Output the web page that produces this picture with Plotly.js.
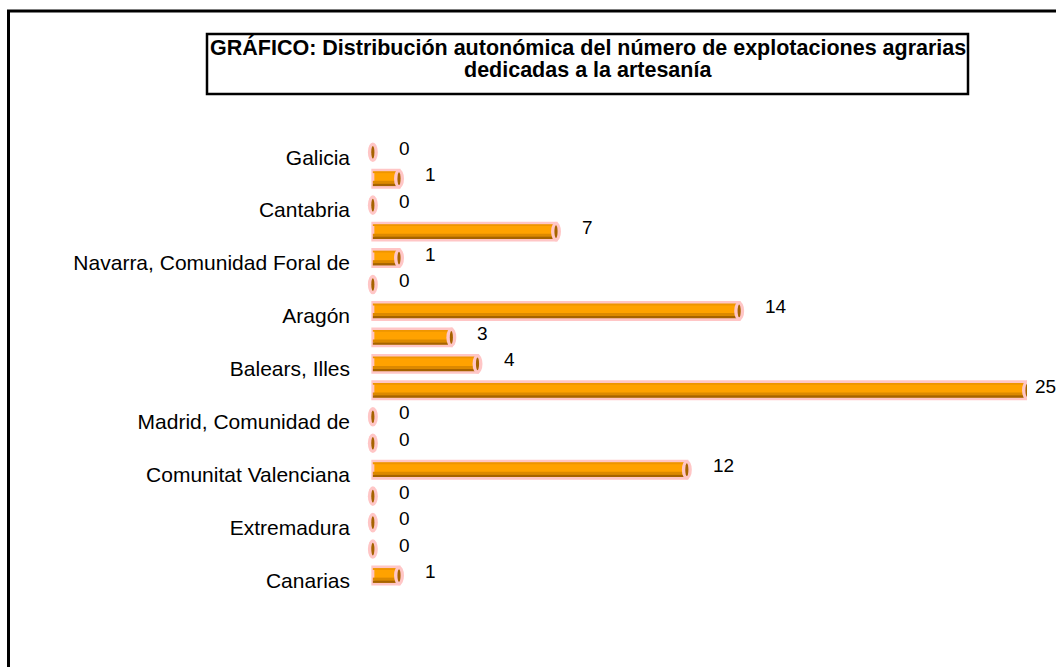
<!DOCTYPE html>
<html>
<head>
<meta charset="utf-8">
<script src="https://cdn.plot.ly/plotly-3.0.1.min.js"></script>
<style>html,body{margin:0;padding:0;background:#fff;}#chart{width:1056px;height:667px;}</style>
</head>
<body>
<div id="chart"></div>
<script>
// ---- data ----
const regions = [
  "Galicia", "Asturias, Principado de", "Cantabria", "País Vasco",
  "Navarra, Comunidad Foral de", "Rioja, La", "Aragón", "Cataluña",
  "Balears, Illes", "Castilla y León", "Madrid, Comunidad de",
  "Castilla - La Mancha", "Comunitat Valenciana", "Murcia, Región de",
  "Extremadura", "Andalucía", "Canarias"
];
const explotaciones = [0, 1, 0, 7, 1, 0, 14, 3, 4, 25, 0, 0, 12, 0, 0, 0, 1];
const shownLabels = ["Galicia", "Cantabria", "Navarra, Comunidad Foral de", "Aragón",
  "Balears, Illes", "Madrid, Comunidad de", "Comunitat Valenciana", "Extremadura", "Canarias"];
const titleLines = ["GRÁFICO: Distribución autonómica del número de explotaciones agrarias",
  "dedicadas a la artesanía"];

// ---- layout geometry ----
const W = 1056, H = 667;
const M = {l: 365, r: 29, t: 139, b: 75};
const XMIN = -0.3, XMAX = 25;
const pw = W - M.l - M.r, ph = H - M.t - M.b;
const px = x => (x - M.l) / pw;
const py = y => (H - M.b - y) / ph;
const dataPx = v => M.l + (v - XMIN) / (XMAX - XMIN) * pw;

const FONT = "Liberation Sans, Arial, sans-serif";
const LBL = 19;

const base = {
  type: "bar", orientation: "h", x: explotaciones, y: regions,
  hoverinfo: "skip", showlegend: false
};
const traces = [
  Object.assign({}, base, {width: 0.64, offset: -0.32,
    marker: {color: "#FFA200", line: {color: "#FFC6C6", width: 3}}}),
  Object.assign({}, base, {width: 0.07, offset: -0.28,
    marker: {color: "#EE9500", line: {width: 0}}}),
  Object.assign({}, base, {width: 0.11, offset: 0.08,
    marker: {color: "#DC8900", line: {width: 0}}}),
  Object.assign({}, base, {width: 0.09, offset: 0.19,
    marker: {color: "#A66300", line: {width: 0}}})
];

const shapes = [];
// cylinder end caps
explotaciones.forEach((v, i) => {
  shapes.push({type: "circle", xref: "x", yref: "y", layer: "above",
    x0: v - 0.19, x1: v + 0.19, y0: i - 0.37, y1: i + 0.37,
    fillcolor: "#FFC6C6", line: {width: 0}});
  shapes.push({type: "circle", xref: "x", yref: "y", layer: "above",
    x0: v - 0.06, x1: v + 0.06, y0: i - 0.24, y1: i + 0.24,
    fillcolor: "#A66300", line: {width: 0}});
});
// outer chart border
shapes.push({type: "rect", xref: "paper", yref: "paper",
  x0: px(8.5), x1: px(1200), y0: py(800), y1: py(11),
  line: {color: "#000", width: 3}, fillcolor: "rgba(0,0,0,0)"});
// title box
shapes.push({type: "rect", xref: "paper", yref: "paper",
  x0: px(207), x1: px(968), y0: py(94), y1: py(34),
  line: {color: "#000", width: 2.5}, fillcolor: "rgba(0,0,0,0)"});

// value labels, kept inside the page
const annotations = explotaciones.map((v, i) => {
  const textW = String(v).length * LBL * 0.556;
  const shift = Math.min(24, W - 2 - textW - dataPx(v));
  return {
    x: v, y: regions[i], xref: "x", yref: "y", text: String(v),
    showarrow: false, xanchor: "left", yanchor: "middle",
    xshift: shift, yshift: 4, font: {family: FONT, size: LBL, color: "#000"}
  };
});
titleLines.forEach((t, k) => annotations.push({
  xref: "paper", yref: "paper", x: px(587.5), y: py(47 + k * 23),
  xanchor: "center", yanchor: "middle",
  text: "<b>" + t + "</b>", showarrow: false,
  font: {family: FONT, size: 21.5, color: "#000"}
}));

const layout = {
  width: W, height: H, margin: M,
  paper_bgcolor: "#fff", plot_bgcolor: "#fff",
  barmode: "overlay",
  xaxis: {range: [XMIN, XMAX], visible: false, fixedrange: true},
  yaxis: {type: "category", categoryorder: "array", categoryarray: regions,
    autorange: "reversed", tickvals: shownLabels, ticktext: shownLabels,
    ticks: "", showline: false, showgrid: false, zeroline: false,
    ticklabelstandoff: 14, ticklabelshift: -5,
    tickfont: {family: FONT, size: 21, color: "#000"}},
  shapes: shapes, annotations: annotations
};

Plotly.newPlot("chart", traces, layout, {displayModeBar: false, staticPlot: true});
</script>
</body>
</html>
